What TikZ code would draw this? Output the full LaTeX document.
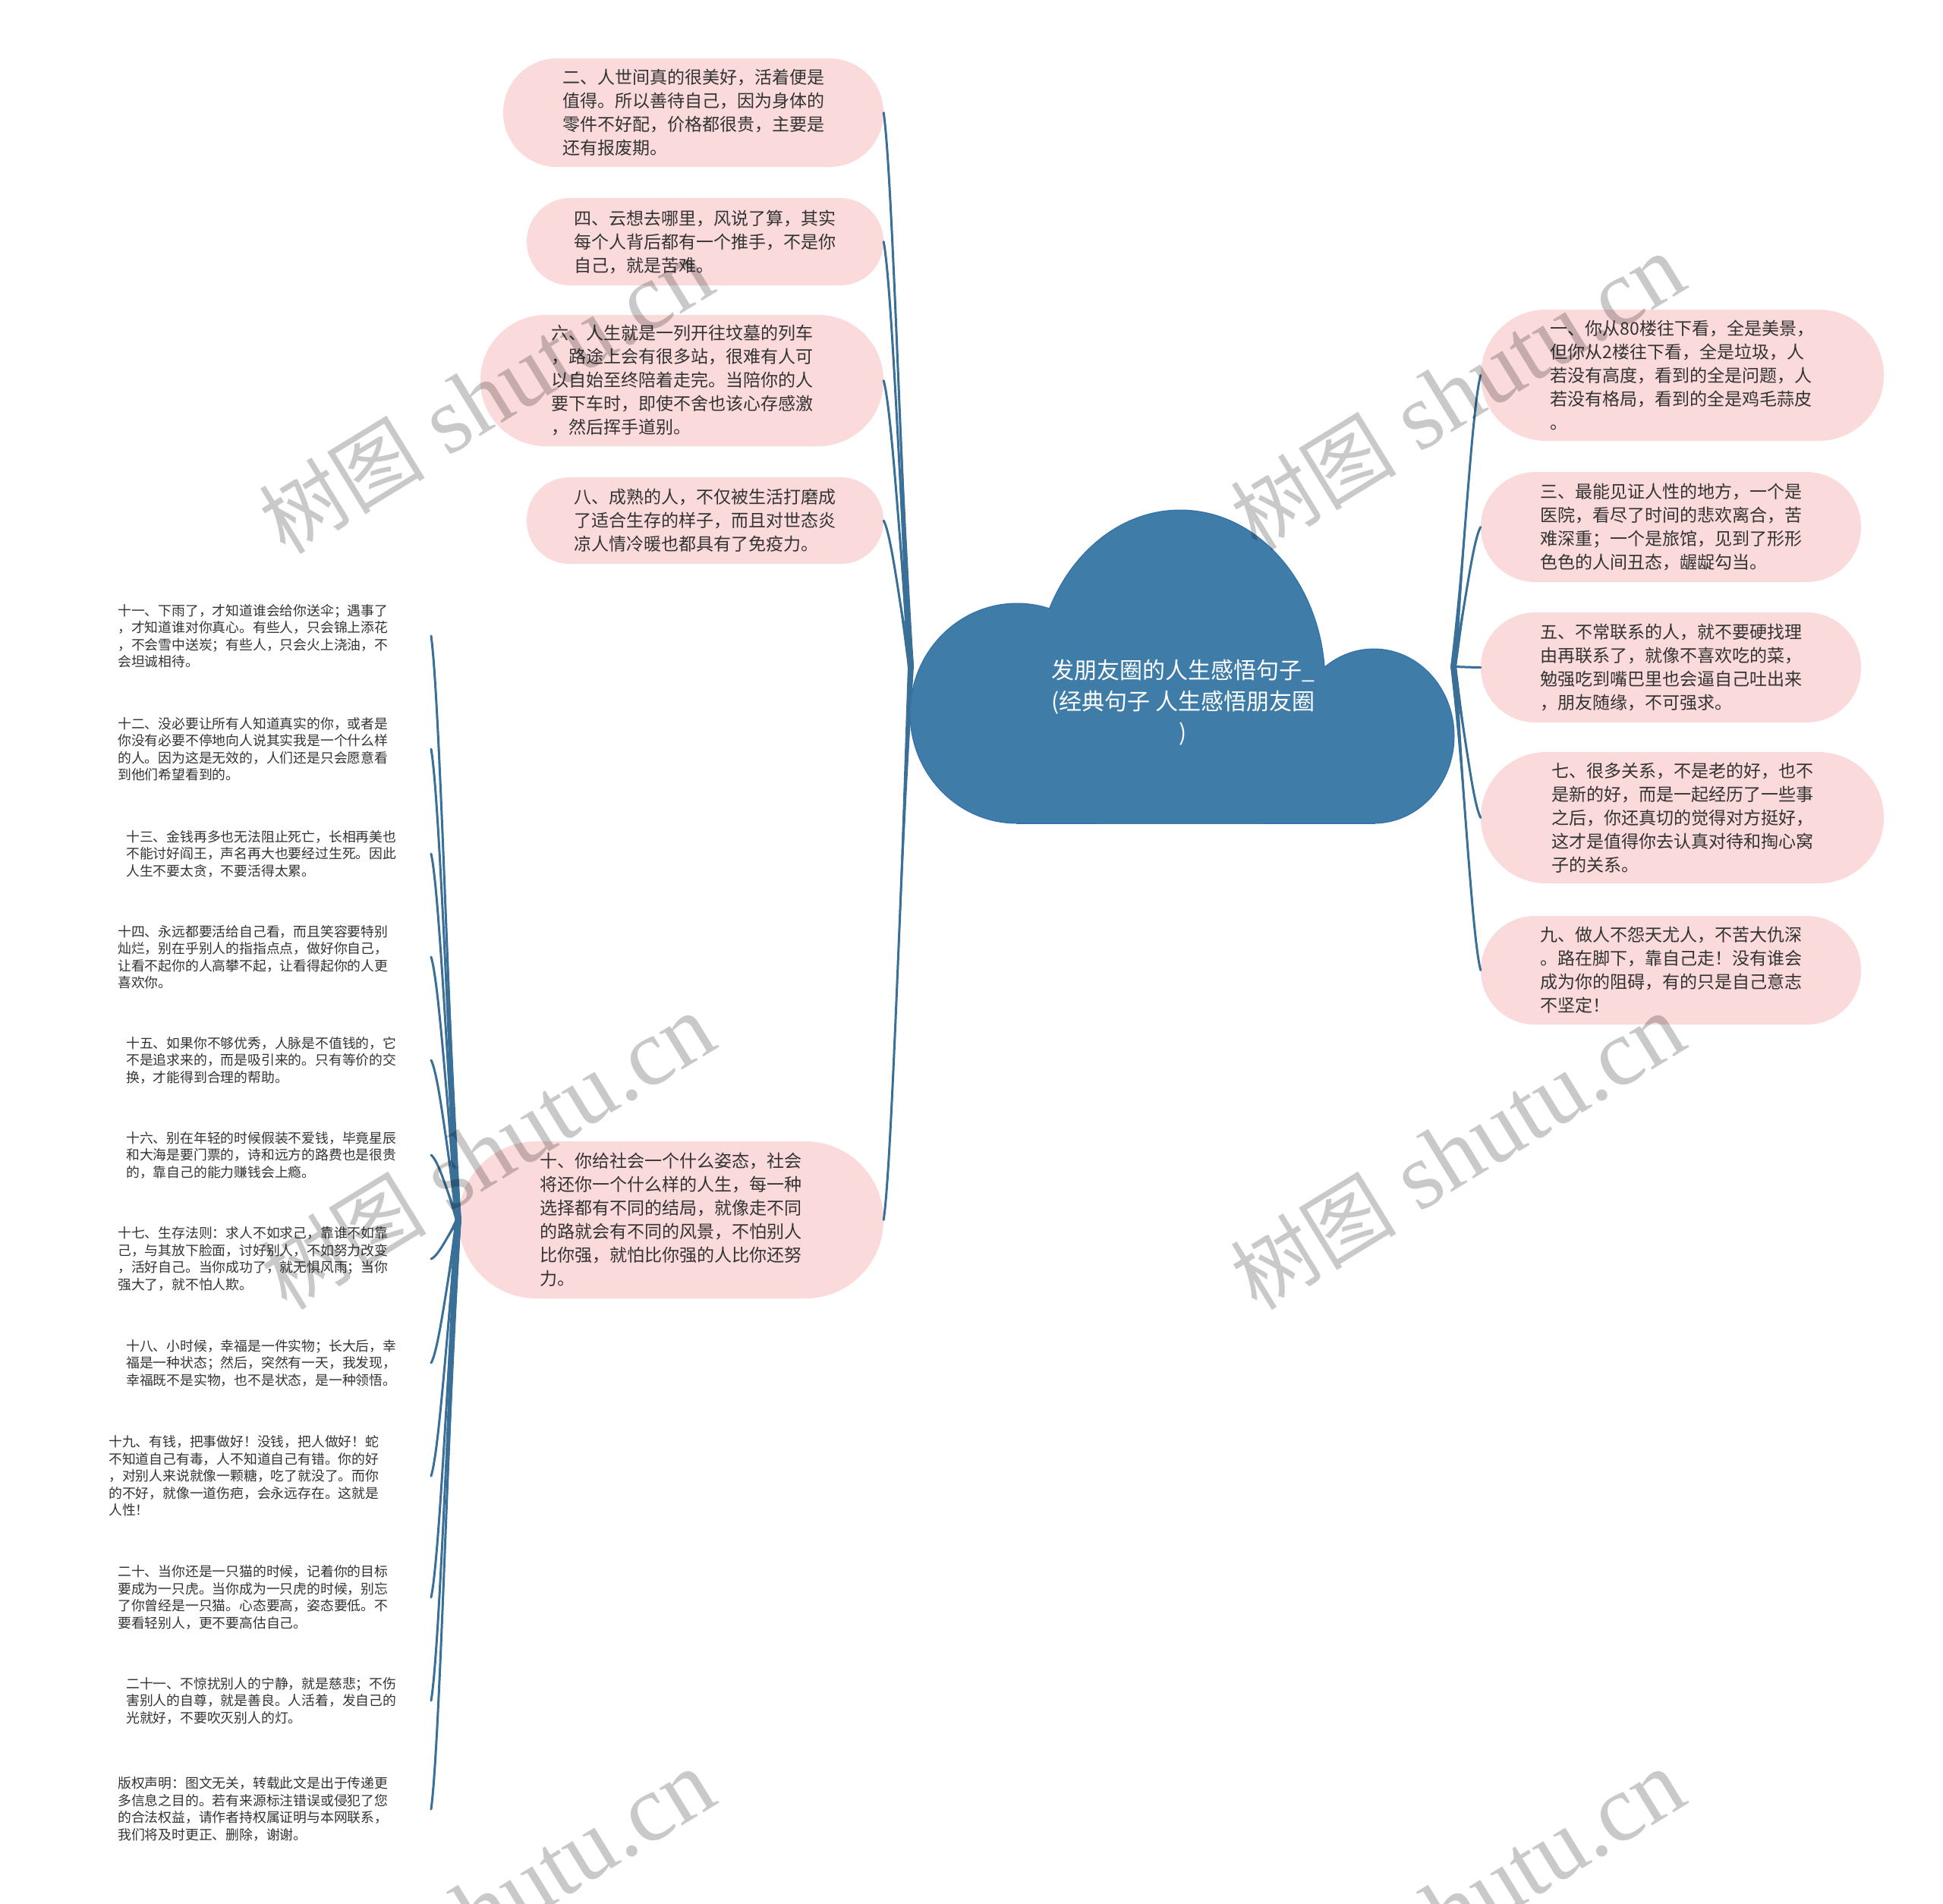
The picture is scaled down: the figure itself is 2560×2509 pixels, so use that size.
\documentclass[tikz,border=0pt]{standalone}
\usepackage{fontspec}
\setmainfont{Liberation Serif}
\newfontfamily\cjk{Noto Sans CJK SC}
\newfontfamily\wmserif{Liberation Serif}
\usetikzlibrary{calc}
\definecolor{pinkc}{HTML}{FADADA}
\definecolor{cloudc}{HTML}{3F7DA8}
\definecolor{cloudb}{HTML}{3672AE}
\definecolor{linec}{HTML}{3A6F98}
\definecolor{txt}{HTML}{333333}
% tapered connector from #1 (root) to #2 (tip)
\newcommand\twig[2]{%
  \coordinate (tA) at ($(#1)!0.4!(#2)$);
  \coordinate (tB) at ($(#2) + 0.3*(#1 |- #2) - 0.3*(#2) + 0.1*(#2 |- #1) - 0.1*(#2)$);
  \fill[linec] ($(#1)+(-4,0)$) .. controls (tA) and (tB) .. (#2) .. controls (tB) and (tA) .. ($(#1)+(4,0)$) -- cycle;
  \draw[twigline] (#1) .. controls (tA) and (tB) .. (#2);}
\newcommand\cloudparts[1]{%
  \path[#1] (1340,940) ellipse [x radius=140, y radius=144];
  \path[#1] (1555,900) ellipse [x radius=190, y radius=227];
  \path[#1] (1810,970) ellipse [x radius=105, y radius=114];
  \path[#1] (1340,940) rectangle (1810,1084);}
\tikzset{
  pill/.style={fill=pinkc, text=txt, align=left, inner sep=0pt,
    font=\cjk\fontsize{23}{31}\selectfont},
  small/.style={anchor=west, text=txt, align=left, inner sep=0pt,
    font=\cjk\fontsize{17.8}{22.5}\selectfont},
  twigline/.style={draw=linec, line width=3pt, line cap=round},
  wm/.style={text=black, text opacity=0.21, rotate=31.5, inner sep=0pt}
}
\begin{document}
\begin{tikzpicture}[x=1pt, y=-1pt]
\useasboundingbox (0,0) rectangle (2560,2509);
\fill[white] (0,0) rectangle (2560,2509);

% left upper nodes
\node[pill, minimum width=501, minimum height=143, rounded corners=71] (n2) at (913.5,148.5)
 {二、人世间真的很美好，活着便是\\值得。所以善待自己，因为身体的\\零件不好配，价格都很贵，主要是\\还有报废期。};
\node[pill, minimum width=470, minimum height=115, rounded corners=57] (n4) at (929,318.5)
 {四、云想去哪里，风说了算，其实\\每个人背后都有一个推手，不是你\\自己，就是苦难。};
\node[pill, minimum width=531, minimum height=173, rounded corners=86] (n6) at (898.5,501.5)
 {六、人生就是一列开往坟墓的列车\\，路途上会有很多站，很难有人可\\以自始至终陪着走完。当陪你的人\\要下车时，即使不舍也该心存感激\\，然后挥手道别。};
\node[pill, minimum width=470, minimum height=114, rounded corners=56] (n8) at (929,686)
 {八、成熟的人，不仅被生活打磨成\\了适合生存的样子，而且对世态炎\\凉人情冷暖也都具有了免疫力。};
\node[pill, minimum width=560, minimum height=207, rounded corners=103] (n10) at (884,1607.5)
 {十、你给社会一个什么姿态，社会\\将还你一个什么样的人生，每一种\\选择都有不同的结局，就像走不同\\的路就会有不同的风景，不怕别人\\比你强，就怕比你强的人比你还努\\力。};

% right nodes
\node[pill, minimum width=531, minimum height=173, rounded corners=86] (n1) at (2216.5,494.5)
 {一、你从80楼往下看，全是美景，\\但你从2楼往下看，全是垃圾，人\\若没有高度，看到的全是问题，人\\若没有格局，看到的全是鸡毛蒜皮\\。};
\node[pill, minimum width=501, minimum height=145, rounded corners=72] (n3) at (2201.5,694.5)
 {三、最能见证人性的地方，一个是\\医院，看尽了时间的悲欢离合，苦\\难深重；一个是旅馆，见到了形形\\色色的人间丑态，龌龊勾当。};
\node[pill, minimum width=501, minimum height=145, rounded corners=72] (n5) at (2201.5,879.5)
 {五、不常联系的人，就不要硬找理\\由再联系了，就像不喜欢吃的菜，\\勉强吃到嘴巴里也会逼自己吐出来\\，朋友随缘，不可强求。};
\node[pill, minimum width=531, minimum height=173, rounded corners=86] (n7) at (2216.5,1077.5)
 {七、很多关系，不是老的好，也不\\是新的好，而是一起经历了一些事\\之后，你还真切的觉得对方挺好，\\这才是值得你去认真对待和掏心窝\\子的关系。};
\node[pill, minimum width=501, minimum height=143, rounded corners=71] (n9) at (2201.5,1278.5)
 {九、做人不怨天尤人，不苦大仇深\\。路在脚下，靠自己走！没有谁会\\成为你的阻碍，有的只是自己意志\\不坚定！};

% small left texts
\node[small] (s11) at (155,838) {十一、下雨了，才知道谁会给你送伞；遇事了\\，才知道谁对你真心。有些人，只会锦上添花\\，不会雪中送炭；有些人，只会火上浇油，不\\会坦诚相待。};
\node[small] (s12) at (155,987) {十二、没必要让所有人知道真实的你，或者是\\你没有必要不停地向人说其实我是一个什么样\\的人。因为这是无效的，人们还是只会愿意看\\到他们希望看到的。};
\node[small] (s13) at (166,1125) {十三、金钱再多也无法阻止死亡，长相再美也\\不能讨好阎王，声名再大也要经过生死。因此\\人生不要太贪，不要活得太累。};
\node[small] (s14) at (155,1261) {十四、永远都要活给自己看，而且笑容要特别\\灿烂，别在乎别人的指指点点，做好你自己，\\让看不起你的人高攀不起，让看得起你的人更\\喜欢你。};
\node[small] (s15) at (166,1397) {十五、如果你不够优秀，人脉是不值钱的，它\\不是追求来的，而是吸引来的。只有等价的交\\换，才能得到合理的帮助。};
\node[small] (s16) at (166,1522) {十六、别在年轻的时候假装不爱钱，毕竟星辰\\和大海是要门票的，诗和远方的路费也是很贵\\的，靠自己的能力赚钱会上瘾。};
\node[small] (s17) at (155,1659) {十七、生存法则：求人不如求己，靠谁不如靠\\己，与其放下脸面，讨好别人，不如努力改变\\，活好自己。当你成功了，就无惧风雨；当你\\强大了，就不怕人欺。};
\node[small] (s18) at (166,1796) {十八、小时候，幸福是一件实物；长大后，幸\\福是一种状态；然后，突然有一天，我发现，\\幸福既不是实物，也不是状态，是一种领悟。};
\node[small] (s19) at (143,1945) {十九、有钱，把事做好！没钱，把人做好！蛇\\不知道自己有毒，人不知道自己有错。你的好\\，对别人来说就像一颗糖，吃了就没了。而你\\的不好，就像一道伤疤，会永远存在。这就是\\人性！};
\node[small] (s20) at (155,2105) {二十、当你还是一只猫的时候，记着你的目标\\要成为一只虎。当你成为一只虎的时候，别忘\\了你曾经是一只猫。心态要高，姿态要低。不\\要看轻别人，更不要高估自己。};
\node[small] (s21) at (166,2241) {二十一、不惊扰别人的宁静，就是慈悲；不伤\\害别人的自尊，就是善良。人活着，发自己的\\光就好，不要吹灭别人的灯。};
\node[small] (scr) at (155,2384) {版权声明：图文无关，转载此文是出于传递更\\多信息之目的。若有来源标注错误或侵犯了您\\的合法权益，请作者持权属证明与本网联系，\\我们将及时更正、删除，谢谢。};

% tips of the left fan
\coordinate (t11) at (568,838);
\coordinate (t12) at (568,987);
\coordinate (t13) at (568,1125);
\coordinate (t14) at (568,1261);
\coordinate (t15) at (568,1397);
\coordinate (t16) at (568,1522);
\coordinate (t17) at (568,1659);
\coordinate (t18) at (568,1796);
\coordinate (t19) at (568,1945);
\coordinate (t20) at (568,2105);
\coordinate (t21) at (568,2241);
\coordinate (tcr) at (568,2384);

% cloud anchors
\coordinate (cw) at (1200,878.5);
\coordinate (ce) at (1915,878.5);

% branches
\twig{cw}{n2.east}
\twig{cw}{n4.east}
\twig{cw}{n6.east}
\twig{cw}{n8.east}
\twig{cw}{n10.east}
\twig{ce}{n1.west}
\twig{ce}{n3.west}
\twig{ce}{n5.west}
\twig{ce}{n7.west}
\twig{ce}{n9.west}
\foreach \t in {t11,t12,t13,t14,t15,t16,t17,t18,t19,t20,t21,tcr}{\twig{n10.west}{\t}}

% cloud
\begin{scope}
  \clip (1100,600) rectangle (2000,1085.5);
  \cloudparts{draw=cloudb, line width=3pt}
  \cloudparts{fill=cloudc}
\end{scope}
\node[text=white, align=center, inner sep=0pt, font=\cjk\fontsize{30}{41}\selectfont] (title) at (1559,926)
 {发朋友圈的人生感悟句子\_\\(经典句子 人生感悟朋友圈\\)};

% watermarks
\foreach \p/\n in {{(640,522)}/wm1,{(1920,517)}/wm2,{(642,1518)}/wm3,{(1920,1518)}/wm4,{(642,2514)}/wm5,{(1920,2514)}/wm6}{
  \node[wm] (\n) at \p {{\cjk\fontsize{110}{110}\selectfont 树图}\hspace{30pt}{\wmserif\fontsize{125}{125}\selectfont shutu.cn}};
}
\end{tikzpicture}
\end{document}
